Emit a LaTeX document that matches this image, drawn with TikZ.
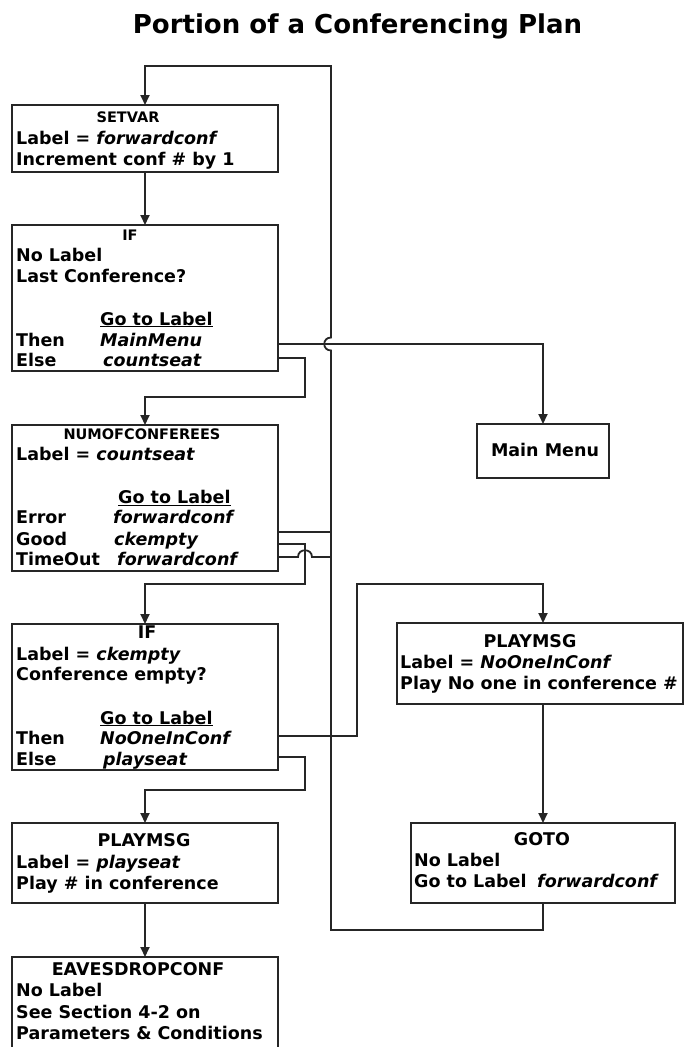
\documentclass[tikz,border=0pt]{standalone}
\usepackage{fontspec}
\setmainfont{DejaVu Sans}
\usetikzlibrary{arrows.meta,calc}

\newcommand\bodyfont{\fontsize{17.5}{21}\selectfont\bfseries}
\newcommand\smallhdr{\fontsize{14.5}{17}\selectfont\bfseries}
\newcommand\titlefont{\fontsize{26}{30}\selectfont\bfseries}

\tikzset{
  box/.style={draw=black!85, line width=1.8pt, rectangle, anchor=north west,
              outer sep=0pt, inner sep=0pt},
  txt/.style={anchor=base west, inner sep=0pt, font=\bodyfont},
  hdr/.style={anchor=base, inner sep=0pt, font=\bodyfont},
  shdr/.style={anchor=base, inner sep=0pt, font=\smallhdr},
  wire/.style={draw=black!85, line width=1.8pt},
  arr/.style={wire, -{Triangle[width=9pt,length=10pt]}},
}

\begin{document}
\begin{tikzpicture}[x=1pt,y=-1pt]
\useasboundingbox (0,0) rectangle (684,1047);

% title
\node[anchor=base, inner sep=0pt, font=\titlefont] (title) at (357.5,33)
  {Portion of a Conferencing Plan};

% ---- boxes ----
\node[box, minimum width=266pt, minimum height=67pt]  (setvar)   at (12,105) {};
\node[box, minimum width=266pt, minimum height=146pt] (if1)      at (12,225) {};
\node[box, minimum width=132pt, minimum height=54pt]  (mainmenu) at (477,424) {};
\node[box, minimum width=266pt, minimum height=146pt] (num)      at (12,425) {};
\node[box, minimum width=266pt, minimum height=146pt] (if2)      at (12,624) {};
\node[box, minimum width=286pt, minimum height=81pt]  (pm2)      at (397,623) {};
\node[box, minimum width=264pt, minimum height=80pt]  (goto)     at (411,823) {};
\node[box, minimum width=266pt, minimum height=80pt]  (pm1)      at (12,823) {};
\node[box, minimum width=266pt, minimum height=110pt] (eaves)    at (12,957) {};

% ---- SETVAR ----
\node[shdr] (sv0) at (128,122.7) {SETVAR};
\node[txt]  (sv1) at (16,144) {Label = \textit{forwardconf}};
\node[txt]  (sv2) at (16,165) {Increment conf \# by 1};

% ---- IF (last conference) ----
\node[shdr] (ia0) at (130,240) {IF};
\node[txt]  (ia1) at (16,261.7) {No Label};
\node[txt]  (ia2) at (16,282.7) {Last Conference?};
\node[txt]  (ia3) at (100,325) {\underline{Go to Label}};
\node[txt]  (ia4) at (16,346) {Then};
\node[txt]  (ia5) at (100,346) {\textit{MainMenu}};
\node[txt]  (ia6) at (16,366.7) {Else};
\node[txt]  (ia7) at (103,366.7) {\textit{countseat}};

% ---- Main Menu ----
\node[hdr] (mm) at (545,456) {Main Menu};

% ---- NUMOFCONFEREES ----
\node[shdr] (nc0) at (142,439.3) {NUMOFCONFEREES};
\node[txt]  (nc1) at (16,460) {Label = \textit{countseat}};
\node[txt]  (nc2) at (118,503.3) {\underline{Go to Label}};
\node[txt]  (nc3) at (16,523.3) {Error};
\node[txt]  (nc4) at (113,523.3) {\textit{forwardconf}};
\node[txt]  (nc5) at (16,545) {Good};
\node[txt]  (nc6) at (114,545) {\textit{ckempty}};
\node[txt]  (nc7) at (16,565.7) {TimeOut};
\node[txt]  (nc8) at (117,565.7) {\textit{forwardconf}};

% ---- IF (conference empty) ----
\node[hdr] (ib0) at (147,638) {IF};
\node[txt] (ib1) at (16,660) {Label = \textit{ckempty}};
\node[txt] (ib2) at (16,680.7) {Conference empty?};
\node[txt] (ib3) at (100,724) {\underline{Go to Label}};
\node[txt] (ib4) at (16,744) {Then};
\node[txt] (ib5) at (100,744) {\textit{NoOneInConf}};
\node[txt] (ib6) at (16,765) {Else};
\node[txt] (ib7) at (103,765) {\textit{playseat}};

% ---- PLAYMSG (no one) ----
\node[hdr] (pb0) at (530,647) {PLAYMSG};
\node[txt] (pb1) at (400,668) {Label = \textit{NoOneInConf}};
\node[txt] (pb2) at (400,689) {Play No one in conference \#};

% ---- GOTO ----
\node[hdr] (gt0) at (542,845.7) {GOTO};
\node[txt] (gt1) at (414,866.7) {No Label};
\node[txt] (gt2) at (414,887) {Go to Label};
\node[txt] (gt3) at (537,887) {\textit{forwardconf}};

% ---- PLAYMSG (seat count) ----
\node[hdr] (pa0) at (144,846.7) {PLAYMSG};
\node[txt] (pa1) at (16,868) {Label = \textit{playseat}};
\node[txt] (pa2) at (16,889) {Play \# in conference};

% ---- EAVESDROPCONF ----
\node[hdr] (ev0) at (138,975) {EAVESDROPCONF};
\node[txt] (ev1) at (16,996.7) {No Label};
\node[txt] (ev2) at (16,1018) {See Section 4-2 on};
\node[txt] (ev3) at (16,1039) {Parameters \& Conditions};

% ---- ports and the return rail ----
\coordinate (thenA) at ($(if1.north east)+(0,119)$);
\coordinate (elseA) at ($(if1.north east)+(0,133)$);
\coordinate (errN)  at ($(num.north east)+(0,107)$);
\coordinate (goodN) at ($(num.north east)+(0,119)$);
\coordinate (toN)   at ($(num.north east)+(0,132)$);
\coordinate (thenB) at ($(if2.north east)+(0,112)$);
\coordinate (elseB) at ($(if2.north east)+(0,133)$);
\coordinate (railtop) at (331,66);
\coordinate (railbot) at (331,930);

% ---- connectors ----
\draw[arr] (setvar.south) -- (if1.north);
\draw[arr] (thenA) -| (mainmenu.north);
\draw[arr] (elseA) -- ++(27,0) |- ($(num.north)+(0,-28)$) -- (num.north);
\draw[wire] (errN) -- (errN -| railtop);
\draw[arr] (goodN) -- ++(27,0) |- ($(if2.north)+(0,-40)$) -- (if2.north);
\draw[wire] (toN) -- ++(20,0) .. controls +(0,-9) and +(0,-9) .. ++(14,0)
            -- (toN -| railtop);
\draw[arr] (thenB) -- ++(79,0) |- ($(goto.north |- pm2.north)+(0,-39)$)
            -- (goto.north |- pm2.north);
\draw[arr] (goto.north |- pm2.south) -- (goto.north);
\draw[arr] (elseB) -- ++(27,0) |- ($(pm1.north)+(0,-33)$) -- (pm1.north);
\draw[arr] (pm1.south) -- (eaves.north);

% return path from GOTO back up to SETVAR, hopping over the MainMenu line
\draw[arr] (goto.south) |- (railbot)
   -- ($(railbot |- thenA)+(0,6.5)$)
   .. controls +(-9,0) and +(-9,0) .. ($(railbot |- thenA)+(0,-6.5)$)
   -- (railtop) -| (setvar.north);

\end{tikzpicture}
\end{document}
